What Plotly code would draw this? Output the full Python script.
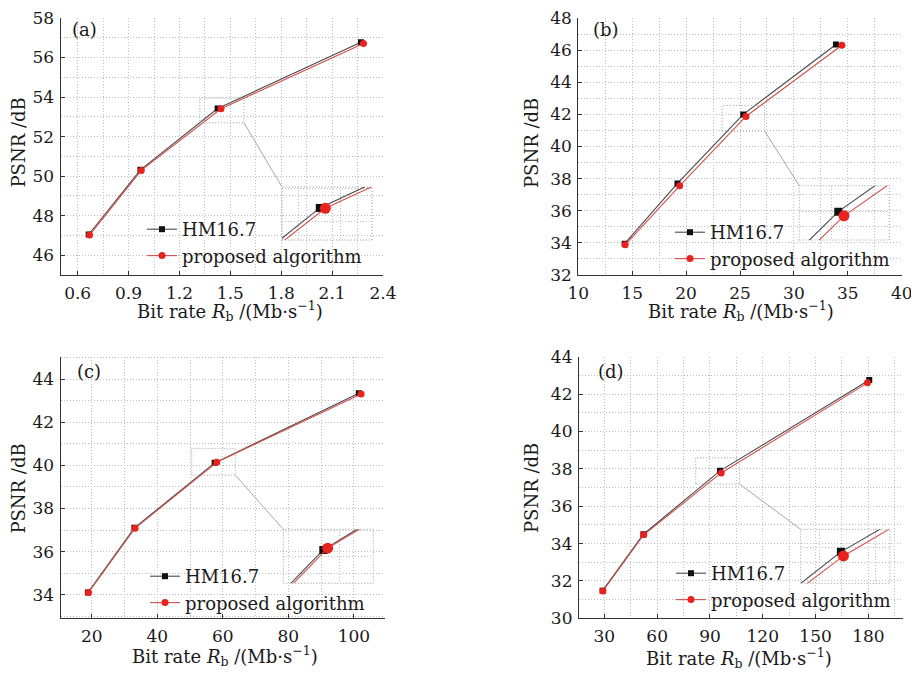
import plotly.graph_objects as go

# page body adds an 8px offset, so the figure is drawn 8px smaller and shifted
REF_W, REF_H, OFF = 919, 675, 8
W, H = REF_W - OFF, REF_H - OFF

# ---------------- data ----------------
# panel (a)
a_rate_hm = [0.665, 0.97, 1.425, 2.27]
a_psnr_hm = [47.05, 50.32, 53.42, 56.77]
a_rate_pr = [0.67, 0.975, 1.445, 2.285]
a_psnr_pr = [47.02, 50.29, 53.41, 56.71]
# panel (b)
b_rate_hm = [14.3, 19.2, 25.3, 33.9]
b_psnr_hm = [33.95, 37.7, 42.0, 46.35]
b_rate_pr = [14.35, 19.4, 25.55, 34.45]
b_psnr_pr = [33.88, 37.55, 41.87, 46.3]
# panel (c)
c_rate_hm = [18.8, 33.0, 57.5, 101.5]
c_psnr_hm = [34.1, 37.1, 40.12, 43.35]
c_rate_pr = [19.0, 33.2, 58.15, 102.2]
c_psnr_pr = [34.1, 37.08, 40.15, 43.32]
# panel (d)
d_rate_hm = [29.0, 52.2, 95.7, 180.5]
d_psnr_hm = [31.48, 34.5, 37.89, 42.75]
d_rate_pr = [29.2, 52.4, 96.4, 179.5]
d_psnr_pr = [31.46, 34.47, 37.78, 42.6]

series_names = ["HM16.7", "proposed algorithm"]
panel_labels = ["(a)", "(b)", "(c)", "(d)"]
x_title = "Bit rate <i>R</i><sub>b</sub> /(Mb·s<sup>−1</sup>)"
y_title = "PSNR /dB"

# ---------------- layout / style config ----------------
FONT = "DejaVu Serif"
FS = 18
TFS = 17
HM_LINE, HM_MARK = "#4a4a4a", "#111111"
PR_LINE, PR_MARK = "#d0504c", "#e8221e"
GRID = "#bdbdbd"
GDASH = "1px,2px"


def px(x):
    return (x - OFF) / W


def py(y):
    return 1 - (y - OFF) / H


panels = [
    dict(data=(a_rate_hm, a_psnr_hm, a_rate_pr, a_psnr_pr),
         dom_x=(60.7, 383), dom_y=(18, 275),
         xr=(0.5, 2.4), yr=(45, 58), xdt=0.3, xmin=0.15, ydt=2, ymin=1,
         rect=(1.32, 1.58, 52.7, 53.95),
         inset_px=(282, 372, 187, 240), inset_xr=(1.289, 1.613), inset_yr=(52.44, 54.06),
         label=(84, 30), xt=(230, 311), yt=(18, 142.5), leg=(142, 211)),
    dict(data=(b_rate_hm, b_psnr_hm, b_rate_pr, b_psnr_pr),
         dom_x=(578.3, 901.7), dom_y=(18, 275),
         xr=(10, 40), yr=(32, 48), xdt=5, xmin=2.5, ydt=2, ymin=1,
         rect=(23.34, 27.28, 40.96, 42.56),
         inset_px=(799.3, 889.3, 185.7, 240), inset_xr=(23.59, 27.54), inset_yr=(41.11, 42.815),
         label=(605.7, 29.3), xt=(740.5, 311), yt=(531.7, 143.3), leg=(670, 214)),
    dict(data=(c_rate_hm, c_psnr_hm, c_rate_pr, c_psnr_pr),
         dom_x=(60.7, 385), dom_y=(356.7, 618.3),
         xr=(10.5, 109.5), yr=(32.9, 45.05), xdt=20, xmin=10, ydt=2, ymin=1,
         rect=(50.5, 63.8, 39.55, 40.79),
         inset_px=(283.3, 373.3, 529.3, 583.3), inset_xr=(51.5, 65.0), inset_yr=(39.52, 40.49),
         label=(89, 371.7), xt=(225, 655.5), yt=(18.3, 488.3), leg=(145, 558)),
    dict(data=(d_rate_hm, d_psnr_hm, d_rate_pr, d_psnr_pr),
         dom_x=(579, 902.7), dom_y=(356.7, 618.3),
         xr=(15.6, 199.5), yr=(30, 44), xdt=30, xmin=15, ydt=2, ymin=1,
         rect=(81.9, 106.7, 37.19, 38.59),
         inset_px=(800.7, 890, 529.3, 583.3), inset_xr=(84.74, 109.09), inset_yr=(37.04, 38.5),
         label=(610.7, 371.7), xt=(738.7, 658), yt=(531.7, 488.3), leg=(671, 555)),
]

fig = go.Figure()
layout = dict(
    template="none",
    width=W, height=H, margin=dict(l=0, r=0, t=0, b=0, pad=0, autoexpand=False),
    paper_bgcolor="white", plot_bgcolor="rgba(0,0,0,0)",
    font=dict(family=FONT, size=FS, color="#1a1a1a"),
    showlegend=True,
)
shapes = []
annotations = []

for i, p in enumerate(panels):
    k = i + 1
    ki = i + 5
    xa = "x" if k == 1 else f"x{k}"
    ya = "y" if k == 1 else f"y{k}"
    xi, yi = f"x{ki}", f"y{ki}"
    legname = "legend" if k == 1 else f"legend{k}"
    rh, ph, rp, pp = p["data"]

    # main traces
    fig.add_trace(go.Scatter(x=rh, y=ph, mode="lines+markers", name=series_names[0],
                             xaxis=xa, yaxis=ya, legend=legname,
                             line=dict(color=HM_LINE, width=1.1),
                             marker=dict(symbol="square", size=6, color=HM_MARK)))
    fig.add_trace(go.Scatter(x=rp, y=pp, mode="lines+markers", name=series_names[1],
                             xaxis=xa, yaxis=ya, legend=legname,
                             line=dict(color=PR_LINE, width=1.1),
                             marker=dict(symbol="circle", size=7, color=PR_MARK)))
    # inset traces
    fig.add_trace(go.Scatter(x=rh, y=ph, mode="lines+markers", showlegend=False,
                             xaxis=xi, yaxis=yi, hoverinfo="skip",
                             line=dict(color=HM_LINE, width=1.1),
                             marker=dict(symbol="square", size=8, color=HM_MARK)))
    fig.add_trace(go.Scatter(x=rp, y=pp, mode="lines+markers", showlegend=False,
                             xaxis=xi, yaxis=yi, hoverinfo="skip",
                             line=dict(color=PR_LINE, width=1.1),
                             marker=dict(symbol="circle", size=11, color=PR_MARK)))

    dx = (px(p["dom_x"][0]), px(p["dom_x"][1]))
    dy = (py(p["dom_y"][1]), py(p["dom_y"][0]))
    axis_common = dict(showline=True, linecolor="#333333", linewidth=1.2,
                       ticks="inside", ticklen=4, tickcolor="#333333",
                       showgrid=True, gridcolor=GRID, griddash=GDASH, gridwidth=1,
                       zeroline=False, tick0=0, automargin=False,
                       ticklabeloverflow="allow",
                       tickfont=dict(family=FONT, size=TFS, color="#1a1a1a"))
    layout["xaxis" if k == 1 else f"xaxis{k}"] = dict(
        axis_common, domain=list(dx), range=list(p["xr"]), dtick=p["xdt"], anchor=ya,
        minor=dict(dtick=p["xmin"], showgrid=True, gridcolor=GRID, griddash=GDASH, ticks=""),
        ticklabelstandoff=2)
    layout["yaxis" if k == 1 else f"yaxis{k}"] = dict(
        axis_common, domain=list(dy), range=list(p["yr"]), dtick=p["ydt"], anchor=xa,
        minor=dict(dtick=p["ymin"], showgrid=True, gridcolor=GRID, griddash=GDASH, ticks=""),
        ticklabelstandoff=2)

    # inset axes
    ix0, ix1, iy0, iy1 = p["inset_px"]
    inset_common = dict(showline=False, ticks="", showticklabels=False, automargin=False,
                        showgrid=True, gridcolor=GRID, griddash=GDASH, zeroline=False, tick0=0)
    layout[f"xaxis{ki}"] = dict(inset_common, domain=[px(ix0), px(ix1)],
                                range=list(p["inset_xr"]), dtick=p["xmin"], anchor=yi)
    layout[f"yaxis{ki}"] = dict(inset_common, domain=[py(iy1), py(iy0)],
                                range=list(p["inset_yr"]), dtick=p["ymin"], anchor=xi)

    # white background for inset and dotted border
    shapes.append(dict(type="rect", xref=f"{xi} domain", yref=f"{yi} domain",
                       x0=0, x1=1, y0=0, y1=1, fillcolor="white",
                       line=dict(width=0), layer="below"))
    shapes.append(dict(type="rect", xref=f"{xi} domain", yref=f"{yi} domain",
                       x0=0, x1=1, y0=0, y1=1, line=dict(color="#9a9a9a", width=1, dash="1px,2px")))
    # zoom rectangle on main axes
    rx0, rx1, ry0, ry1 = p["rect"]
    shapes.append(dict(type="rect", xref=xa, yref=ya, x0=rx0, x1=rx1, y0=ry0, y1=ry1,
                       line=dict(color="#9a9a9a", width=1, dash="1px,2px")))
    # connector from rect lower-right corner to inset top-left corner
    cx = dx[0] + (rx1 - p["xr"][0]) / (p["xr"][1] - p["xr"][0]) * (dx[1] - dx[0])
    cy = dy[0] + (ry0 - p["yr"][0]) / (p["yr"][1] - p["yr"][0]) * (dy[1] - dy[0])
    shapes.append(dict(type="line", xref="paper", yref="paper",
                       x0=cx, y0=cy, x1=px(ix0), y1=py(iy0),
                       line=dict(color="#a8a8a8", width=1)))

    # legend
    layout[legname] = dict(x=px(p["leg"][0]), y=py(p["leg"][1]), xanchor="left", yanchor="top",
                           bgcolor="rgba(0,0,0,0)", borderwidth=0,
                           font=dict(family=FONT, size=FS, color="#1a1a1a"),
                           tracegroupgap=0, itemwidth=30)

    # panel label, axis titles
    annotations.append(dict(text=panel_labels[i], xref="paper", yref="paper",
                            x=px(p["label"][0]), y=py(p["label"][1]),
                            xanchor="center", yanchor="middle", showarrow=False,
                            font=dict(family=FONT, size=FS, color="#1a1a1a")))
    annotations.append(dict(text=x_title, xref="paper", yref="paper",
                            x=px(p["xt"][0]), y=py(p["xt"][1]),
                            xanchor="center", yanchor="middle", showarrow=False,
                            font=dict(family=FONT, size=FS, color="#1a1a1a")))
    annotations.append(dict(text=y_title, xref="paper", yref="paper",
                            x=px(p["yt"][0]), y=py(p["yt"][1]), textangle=-90,
                            xanchor="center", yanchor="middle", showarrow=False,
                            font=dict(family=FONT, size=FS, color="#1a1a1a")))

layout["shapes"] = shapes
layout["annotations"] = annotations
fig.update_layout(**layout)
fig.write_html("out.html")
